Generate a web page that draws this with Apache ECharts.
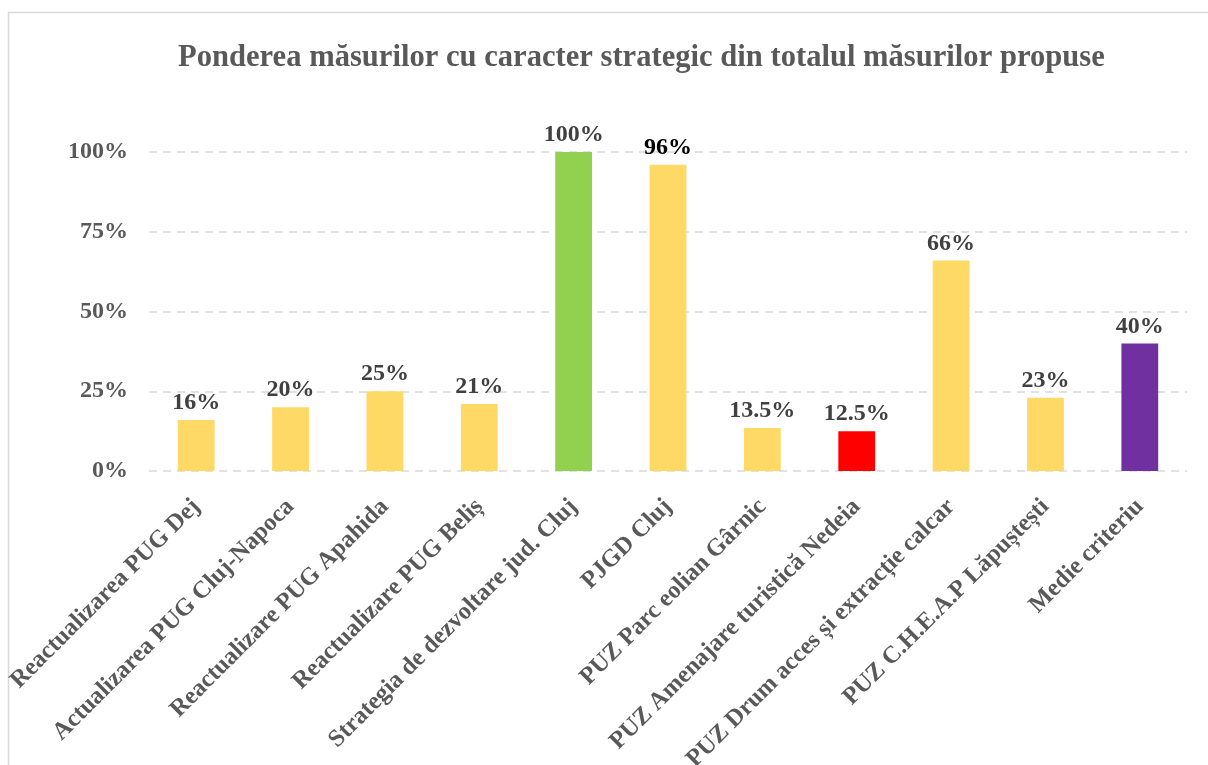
<!DOCTYPE html>
<html>
<head>
<meta charset="utf-8">
<script src="https://cdn.jsdelivr.net/npm/echarts@6/dist/echarts.min.js"></script>
<style>
  html, body { margin: 0; padding: 0; background: #fff; }
  #chart { width: 1208px; height: 765px; }
</style>
</head>
<body>
<div id="chart"></div>
<script>
// date din grafic
const categories = [
    'Reactualizarea PUG Dej',
    'Actualizarea PUG Cluj-Napoca',
    'Reactualizare PUG Apahida',
    'Reactualizare PUG Beliș',
    'Strategia de dezvoltare jud. Cluj',
    'PJGD Cluj',
    'PUZ Parc eolian Gârnic',
    'PUZ Amenajare turistică Nedeia',
    'PUZ Drum acces și extracție calcar',
    'PUZ C.H.E.A.P Lăpuștești',
    'Medie criteriu'
]
const values = [16, 20, 25, 21, 100, 96, 13.5, 12.5, 66, 23, 40]
const barColors = ['#FFD966', '#FFD966', '#FFD966', '#FFD966', '#92D050', '#FFD966', '#FFD966', '#FF0000', '#FFD966', '#FFD966', '#7030A0']
const labelColors = ['#404040', '#404040', '#404040', '#404040', '#404040', '#000000', '#404040', '#404040', '#404040', '#404040', '#404040']
const yTicks = [0, 25, 50, 75, 100]

const FONT = '"Liberation Serif", "Times New Roman", serif'

const chart = echarts.init(document.getElementById('chart'))
chart.setOption({
    backgroundColor: '#fff',
    animation: false,
    title: {
        text: 'Ponderea măsurilor cu caracter strategic din totalul măsurilor propuse',
        left: 173,
        top: 38,
        textStyle: { fontFamily: FONT, fontWeight: 'bold', fontSize: 30.6, color: '#595959' }
    },
    grid: { left: 149, right: 21, top: 152, bottom: 294, containLabel: false, outerBoundsMode: 'none' },
    xAxis: {
        type: 'category',
        data: categories,
        axisLine: { show: false },
        axisTick: { show: false },
        axisLabel: {
            interval: 0,
            rotate: 45,
            margin: 32,
            fontFamily: FONT, fontWeight: 'bold', fontSize: 24.5, color: '#595959'
        }
    },
    yAxis: {
        type: 'value',
        min: yTicks[0],
        max: yTicks[yTicks.length - 1],
        interval: 25,
        axisLine: { show: false },
        axisTick: { show: false },
        axisLabel: {
            formatter: '{value}%',
            margin: 21,
            fontFamily: FONT, fontWeight: 'bold', fontSize: 24, color: '#595959'
        },
        splitLine: { lineStyle: { color: '#D9D9D9', width: 1.5, type: [8, 6] } }
    },
    series: [{
        type: 'bar',
        barWidth: '39%',
        data: values.map((v, i) => ({
            value: v,
            itemStyle: { color: barColors[i] },
            label: { color: labelColors[i] }
        })),
        label: {
            show: true,
            position: 'top',
            distance: 5,
            formatter: (p) => p.value + '%',
            fontFamily: FONT, fontWeight: 'bold', fontSize: 24
        }
    }],
    graphic: [{
        type: 'polyline',
        silent: true,
        shape: { points: [[8.5, 765], [8.5, 12.5], [1208, 12.5]] },
        style: { stroke: '#D9D9D9', lineWidth: 1.5, fill: null }
    }]
})
</script>
</body>
</html>
